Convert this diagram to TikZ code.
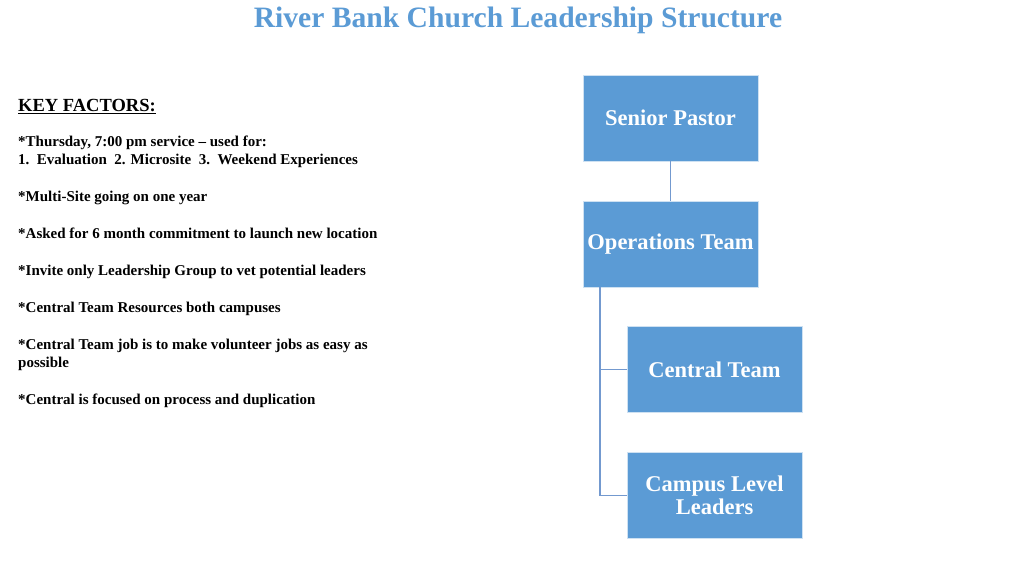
\documentclass[tikz,border=0pt]{standalone}
\usepackage{fontspec}
\setmainfont{Liberation Serif}
\definecolor{boxblue}{HTML}{5B9BD5}
\definecolor{lineblue}{HTML}{7399CF}

\begin{document}
\begin{tikzpicture}[x=1pt,y=-1pt,
  role/.style={rectangle,fill=boxblue,draw=white!70!boxblue,line width=0.6pt,
    minimum width=175pt,minimum height=86pt,inner sep=1pt,text=white,
    font=\bfseries\fontsize{22.5}{23.5}\selectfont,align=center},
  fact/.style={anchor=base west,inner sep=0pt,
    font=\bfseries\fontsize{15}{18}\selectfont},
  link/.style={lineblue,line width=1.2pt}]
\useasboundingbox (0,0) rectangle (1024,577);

% title
\node[text=boxblue,font=\bfseries\fontsize{29.6}{32}\selectfont,anchor=base] (title) at (518,28) {River Bank Church Leadership Structure};

% key factors
\node[fact,font=\bfseries\fontsize{18.5}{20}\selectfont] (key) at (18,112) {\underline{KEY FACTORS:}};
\node[fact] (f1) at (18,147) {*Thursday, 7:00 pm service -- used for:};
\node[fact] (f1b) at (18,165) {1.\ \ Evaluation\ \ 2. Microsite\ \ 3.\ \ Weekend Experiences};
\node[fact] (f2) at (18,202) {*Multi-Site going on one year};
\node[fact] (f3) at (18,239) {*Asked for 6 month commitment to launch new location};
\node[fact] (f4) at (18,275) {*Invite only Leadership Group to vet potential leaders};
\node[fact] (f5) at (18,312) {*Central Team Resources both campuses};
\node[fact] (f6) at (18,349) {*Central Team job is to make volunteer jobs as easy as};
\node[fact] (f6b) at (18,367) {possible};
\node[fact] (f7) at (18,404) {*Central is focused on process and duplication};

% chart
\node[role] (pastor) at (670.5,118) {Senior Pastor};
\node[role] (ops) at (670.5,244) {Operations Team};
\node[role] (central) at (714.5,369.5) {Central Team};
\node[role] (campus) at (714.5,495.5) {Campus Level\\Leaders};

\draw[link] (pastor) -- (ops);
\coordinate (trunk) at (600,287);
\draw[link] (trunk) |- (central.west);
\draw[link] (trunk) |- (campus.west);
\end{tikzpicture}
\end{document}
